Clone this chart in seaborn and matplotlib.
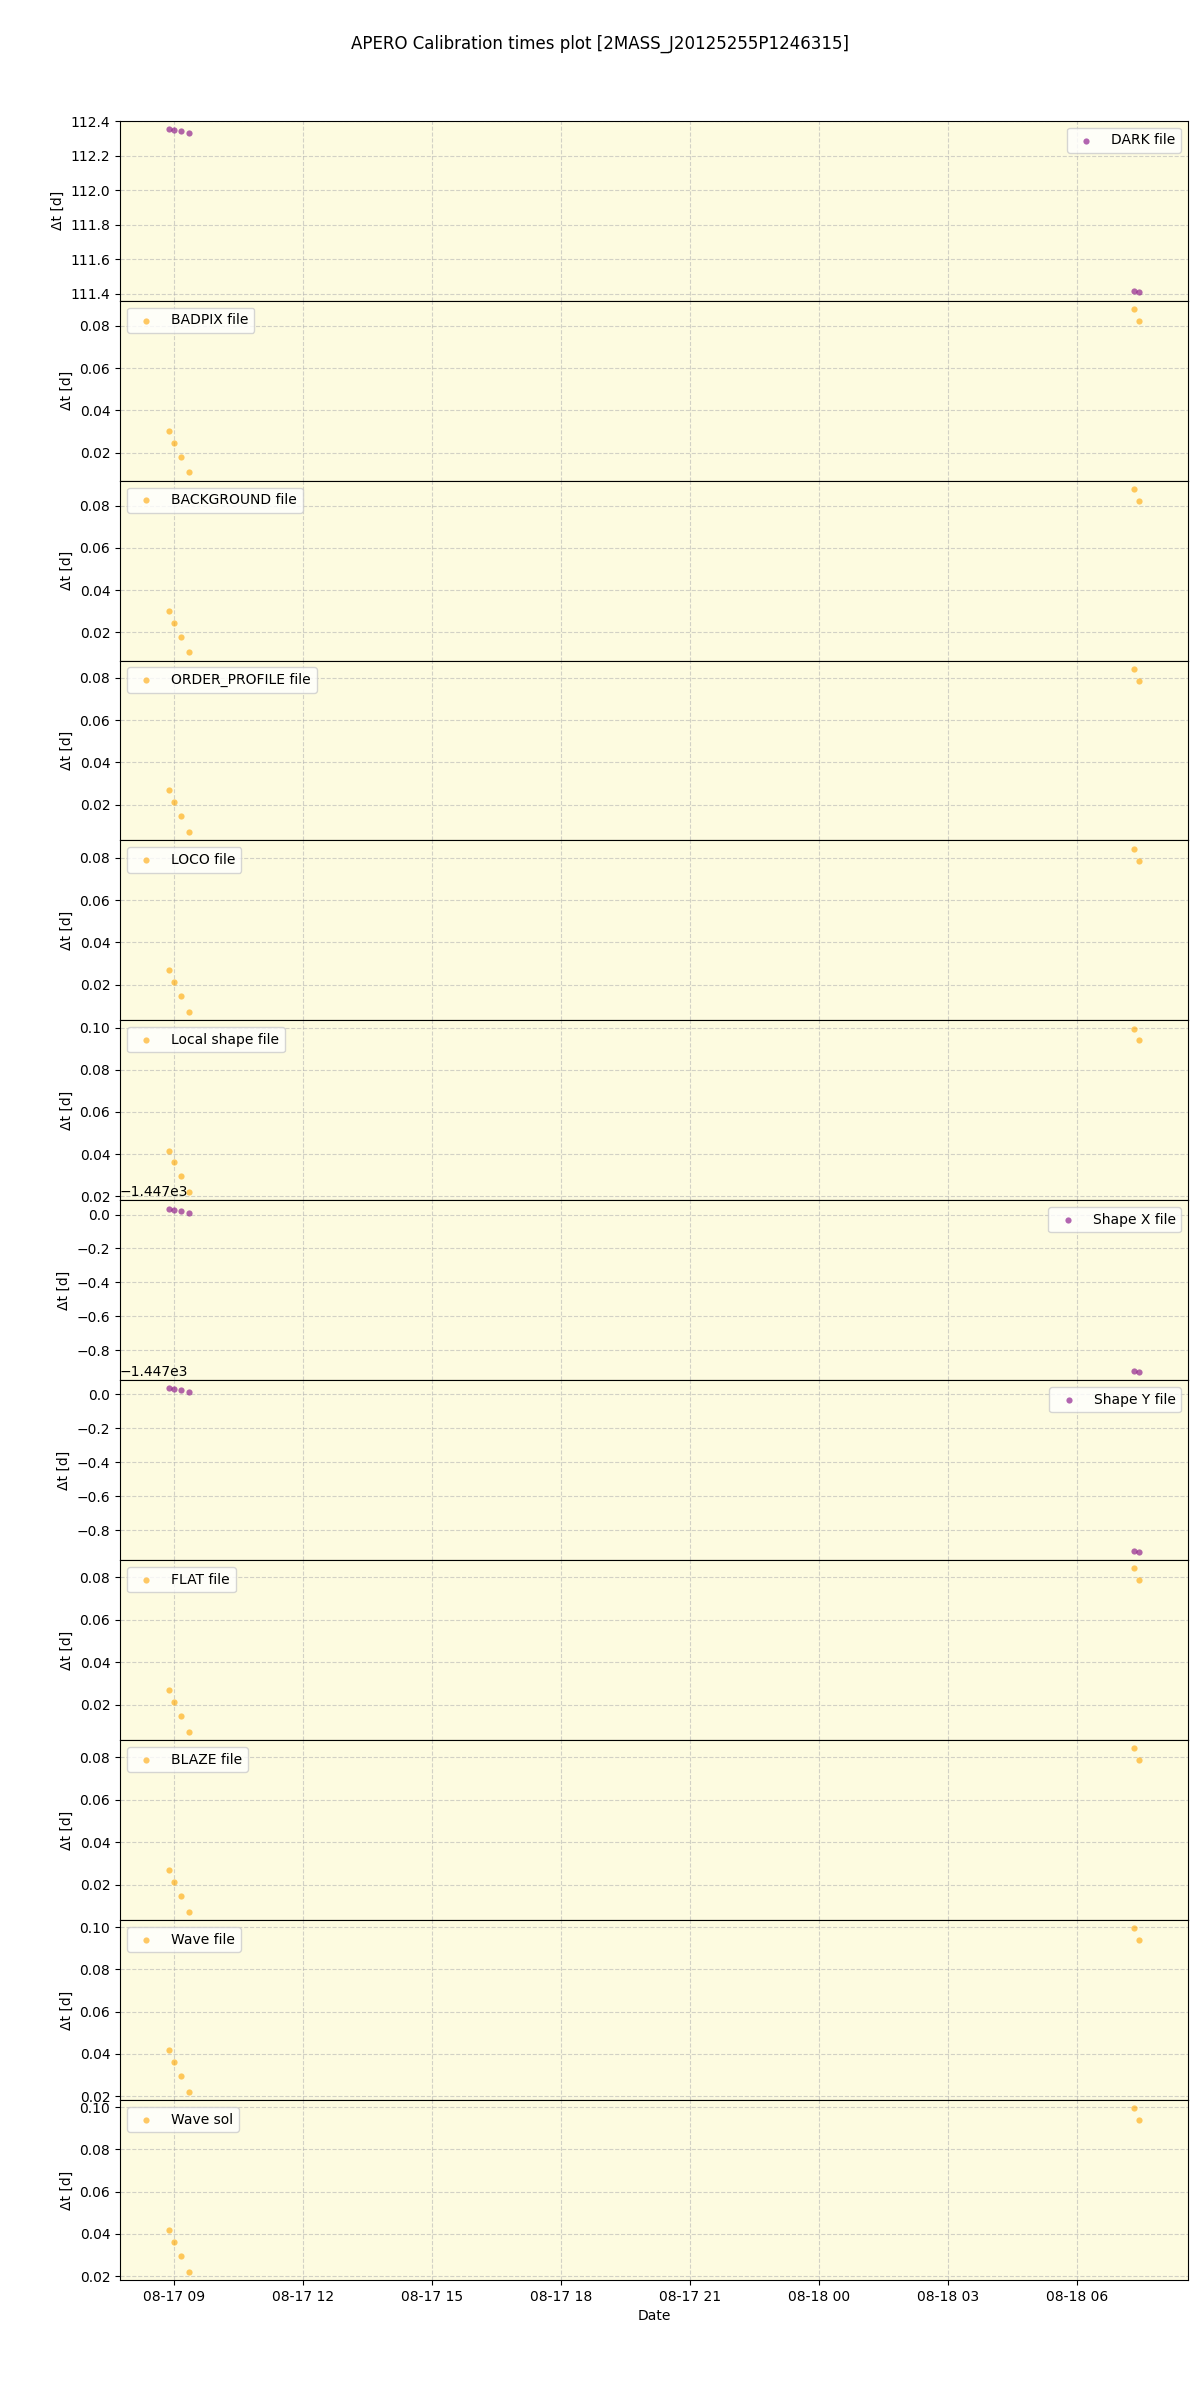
import pandas as pd
import seaborn as sns
import matplotlib
matplotlib.use("Agg")
import matplotlib.pyplot as plt
import matplotlib.dates as mdates

# -----------------------------
# Data
# -----------------------------
obs_times = [
    "2023-08-17 08:53", "2023-08-17 09:00", "2023-08-17 09:10",
    "2023-08-17 09:21", "2023-08-18 07:20", "2023-08-18 07:27",
]

dark_dt = [112.356, 112.350, 112.345, 112.333, 111.414, 111.408]
badpix_dt = [0.0304, 0.0247, 0.0181, 0.0106, 0.0880, 0.0824]
order_dt = [0.0269, 0.0213, 0.0147, 0.0071, 0.0842, 0.0786]
shape_dt = [0.0417, 0.0361, 0.0296, 0.0220, 0.0995, 0.0939]
shapexy_dt = [-1446.9647, -1446.9706, -1446.9765, -1446.9882, -1447.9216, -1447.9294]

panel_names = [
    "DARK file", "BADPIX file", "BACKGROUND file", "ORDER_PROFILE file",
    "LOCO file", "Local shape file", "Shape X file", "Shape Y file",
    "FLAT file", "BLAZE file", "Wave file", "Wave sol",
]
panel_values = [
    dark_dt, badpix_dt, badpix_dt, order_dt,
    order_dt, shape_dt, shapexy_dt, shapexy_dt,
    order_dt, order_dt, shape_dt, shape_dt,
]
panel_colors = [
    "purple", "orange", "orange", "orange",
    "orange", "orange", "purple", "purple",
    "orange", "orange", "orange", "orange",
]

title = "APERO Calibration times plot [2MASS_J20125255P1246315]"

# -----------------------------
# Plot
# -----------------------------
fig, axes = plt.subplots(12, 1, figsize=(12, 24), dpi=100, sharex=True)
fig.subplots_adjust(left=0.1, right=0.99, top=0.9497, bottom=0.05, hspace=0)

for ax, name, vals, col in zip(axes, panel_names, panel_values, panel_colors):
    df = pd.DataFrame({"time": pd.to_datetime(obs_times), "dt": vals})
    sns.scatterplot(x="time", y="dt", data=df, ax=ax, color=col,
                    alpha=0.6, s=20, linewidth=0, label=name)
    ax.set_facecolor("#fdfbe0")
    ax.grid(True, linestyle="--", color="#b0b0b0", alpha=0.55)
    ax.set_axisbelow(True)
    ax.set_ylabel("\u0394t [d]")
    ax.set_xlabel("")
    ax.legend(loc="best")
    for sp in ax.spines.values():
        sp.set_color("black")

axes[-1].set_xlabel("Date")
axes[-1].xaxis.set_major_locator(mdates.HourLocator(byhour=range(0, 24, 3)))
axes[-1].xaxis.set_major_formatter(mdates.DateFormatter("%m-%d %H"))

fig.suptitle(title, y=0.9855, fontsize=12)
plt.savefig("out.png")
plt.close()
